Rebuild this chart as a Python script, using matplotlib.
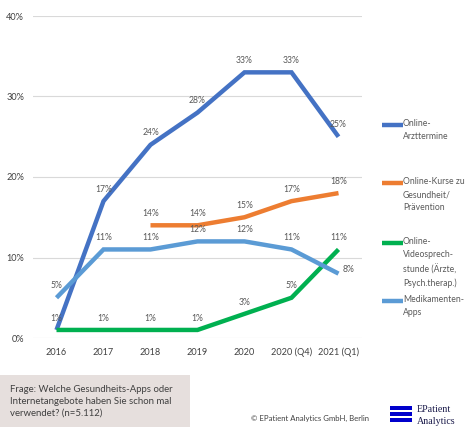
import matplotlib
matplotlib.use("Agg")
import matplotlib.pyplot as plt
from matplotlib.lines import Line2D
from matplotlib.patches import Rectangle
import numpy as np

plt.rcParams['font.family'] = ['Lato', 'DejaVu Sans']

categories = ["2016", "2017", "2018", "2019", "2020", "2020 (Q4)", "2021 (Q1)"]
arzttermine = [1, 17, 24, 28, 33, 33, 25]
kurse = [None, None, 14, 14, 15, 17, 18]
video = [1, 1, 1, 1, 3, 5, 11]
medikamente = [5, 11, 11, 12, 12, 11, 8]

series_names = ["Online-\nArzttermine",
                "Online-Kurse zu\nGesundheit/\nPrävention",
                "Online-\nVideosprech-\nstunde (Ärzte,\nPsych.therap.)",
                "Medikamenten-\nApps"]
colors = ["#4472C4", "#ED7D31", "#00B050", "#5B9BD5"]
yticks = [0, 10, 20, 30, 40]

fig = plt.figure(figsize=(4.68, 4.32), dpi=100)
ax = fig.add_axes([33/468, 1-338/432, (362-33)/468, (338-16)/432])

x = np.arange(len(categories))
all_series = [arzttermine, kurse, video, medikamente]
lw = 3.2
for vals, c in zip(all_series, colors):
    xs = [xi for xi, v in zip(x, vals) if v is not None]
    ys = [v for v in vals if v is not None]
    ax.plot(xs, ys, color=c, lw=lw, solid_capstyle='butt', solid_joinstyle='miter', zorder=3)

label_color = "#595959"
fs_lab = 6.2
# data labels
for vals, c, name in zip(all_series, colors, series_names):
    for xi, v in zip(x, vals):
        if v is None:
            continue
        if vals is medikamente and xi == len(categories) - 1:
            ax.annotate(f"{v}%", (xi, v), xytext=(3, 3), textcoords='offset points',
                        ha='left', va='center', fontsize=fs_lab, color=label_color)
            continue
        if vals is video and xi == 0:
            continue
        ax.annotate(f"{v}%", (xi, v), xytext=(0, 8.5), textcoords='offset points',
                    ha='center', va='center', fontsize=fs_lab, color=label_color)

ax.set_xlim(-0.5, len(categories) - 0.5)
ax.set_ylim(0, 40)
ax.set_yticks(yticks)
ax.set_yticklabels([f"{t}%" for t in yticks])
ax.set_xticks(x)
ax.set_xticklabels(categories)
ax.tick_params(axis='both', length=0, labelsize=6.6, colors="#404040")
ax.tick_params(axis='x', pad=7)
ax.tick_params(axis='y', pad=6.5)
ax.grid(axis='y', color="#D9D9D9", lw=0.8)
ax.set_axisbelow(True)
for s in ax.spines.values():
    s.set_visible(False)

# legend (manual)
leg_y = [125, 183, 243, 301]
for yy, c, name in zip(leg_y, colors, series_names):
    fy = 1 - yy/432
    fig.add_artist(Line2D([382/468, 403/468], [fy, fy], color=c, lw=3.2, solid_capstyle='butt'))
    fig.text(403/468, fy + 5.5/432, name, ha='left', va='top', fontsize=6.2,
             color=label_color, linespacing=1.55)

# question box
fig.add_artist(Rectangle((0, 1-427/432), 190/468, 52/432, transform=fig.transFigure,
                         facecolor="#E6DFDD", edgecolor='none'))
fig.text(10/468, 1-385/432,
         "Frage: Welche Gesundheits-Apps oder\nInternetangebote haben Sie schon mal\nverwendet? (n=5.112)",
         ha='left', va='top', fontsize=6.9, color="#404040", linespacing=1.4)

fig.text(310/468, 1-418/432, "© EPatient Analytics GmbH, Berlin", ha='center', va='center',
         fontsize=5.6, color="#404040")

# logo
for i in range(3):
    top = 406 + i*6
    fig.add_artist(Rectangle((390/468, 1-(top+4)/432), 22/468, 4/432, transform=fig.transFigure,
                             facecolor="#0000CC", edgecolor='none'))
fig.text(417/468, 1-410/432, "EPatient", ha='left', va='center', fontsize=7.2,
         family='Liberation Serif', color="#1a1a4a")
fig.text(417/468, 1-421/432, "Analytics", ha='left', va='center', fontsize=7.2,
         family='Liberation Serif', color="#1a1a4a")

fig.savefig("out.png", dpi=100, facecolor='white')
